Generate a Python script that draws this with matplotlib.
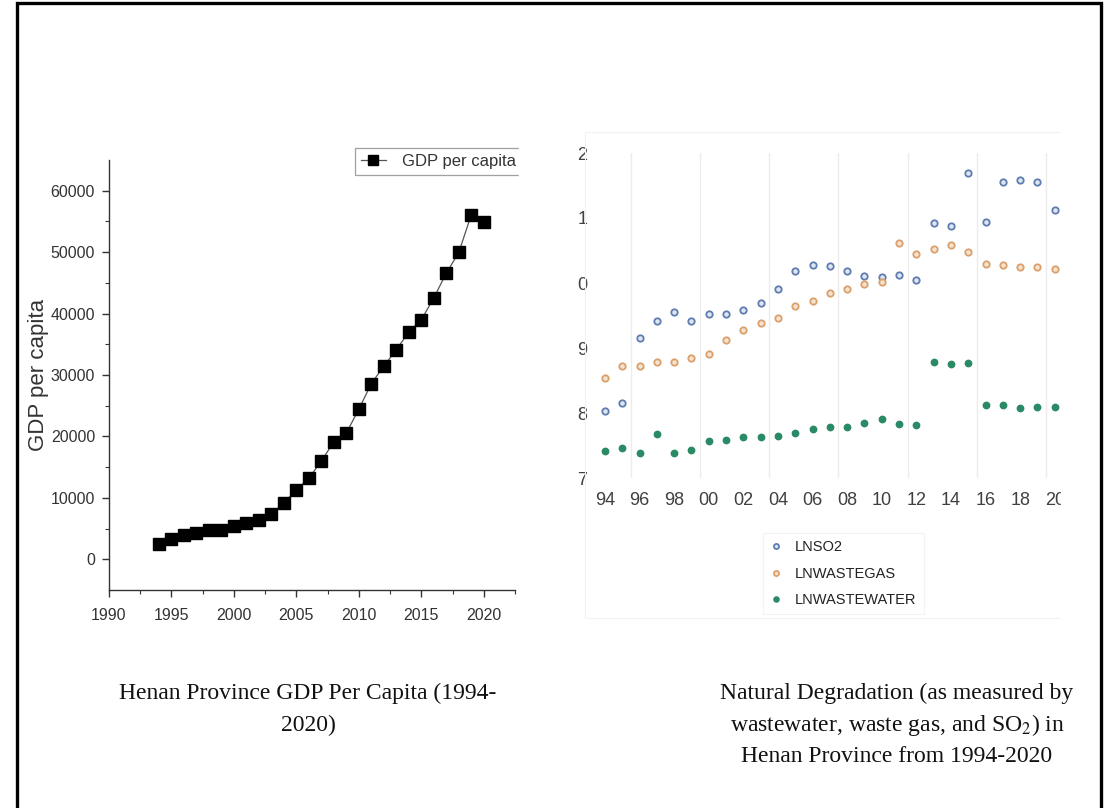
import matplotlib
matplotlib.use('Agg')
import matplotlib.pyplot as plt
import matplotlib.patches as mpatches
from matplotlib.lines import Line2D
import numpy as np

# GDP per capita, Henan (left panel)
gdp_years = list(range(1994, 2021))
gdp_per_capita = [2440, 3260, 3900, 4340, 4720, 4780, 5430, 5970, 6400, 7330,
                  9230, 11290, 13190, 16010, 19110, 20580, 24430, 28610, 31430,
                  34150, 36970, 38980, 42560, 46580, 49950, 56080, 54830]

# log pollution series (right panel)
deg_years = list(range(1994, 2021))
lnso2 = [8.03, 8.16, 9.15, 9.42, 9.55, 9.42, 9.52, 9.53, 9.59, 9.70,
         9.91, 10.19, 10.27, 10.26, 10.18, 10.11, 10.10, 10.12, 10.05,
         10.92, 10.87, 11.69, 10.94, 11.56, 11.59, 11.56, 11.12]
lnwastegas = [8.54, 8.72, 8.73, 8.79, 8.79, 8.84, 8.91, 9.13, 9.27, 9.38,
              9.46, 9.64, 9.72, 9.84, 9.91, 9.99, 10.02, 10.62, 10.45,
              10.53, 10.59, 10.48, 10.29, 10.28, 10.25, 10.25, 10.22]
lnwastewater = [7.41, 7.46, 7.39, 7.68, 7.39, 7.43, 7.57, 7.59, 7.63, 7.63,
                7.65, 7.70, 7.76, 7.79, 7.79, 7.84, 7.91, 7.83, 7.82,
                8.78, 8.75, 8.77, 8.13, 8.13, 8.08, 8.09, 8.09]

W, H = 1109, 808
fig = plt.figure(figsize=(W / 100, H / 100), dpi=100)

def fx(px):
    return px / W

def fy(py):
    return 1 - py / H

sans = ['Liberation Sans', 'DejaVu Sans']
serif = ['Liberation Serif', 'DejaVu Serif']
plt.rcParams['mathtext.fontset'] = 'stix'

# ---------------- left panel ----------------
ax1 = fig.add_axes([fx(109), fy(590), fx(515) - fx(109), fy(160) - fy(590)])
ax1.plot(gdp_years, gdp_per_capita, color='#555555', lw=0.9, marker='s',
         ms=8.8, mfc='black', mec='black', label='GDP per capita')
ax1.set_xlim(1990, 2022.5)
ax1.set_ylim(-5000, 65000)
ax1.set_xticks(range(1990, 2021, 5))
ax1.set_xticks(np.arange(1992.5, 2023, 5), minor=True)
ax1.set_yticks(range(0, 60001, 10000))
ax1.set_yticks(range(5000, 60001, 10000), minor=True)
for s in ['top', 'right']:
    ax1.spines[s].set_visible(False)
for s in ['left', 'bottom']:
    ax1.spines[s].set_color('#333333')
    ax1.spines[s].set_linewidth(1.0)
ax1.tick_params(which='major', direction='out', length=5, width=1, color='#333333',
                labelcolor='#333333', pad=5)
ax1.tick_params(axis='x', pad=8)
ax1.tick_params(which='minor', direction='out', length=3, width=0.8, color='#333333')
for lbl in ax1.get_xticklabels() + ax1.get_yticklabels():
    lbl.set_family(sans)
    lbl.set_fontsize(11.5)
ax1.set_ylabel('GDP per capita', family=sans, fontsize=16, color='#333333')
ax1.yaxis.set_label_coords(-0.148, 0.5)

leg1 = fig.legend(loc='upper left', bbox_to_anchor=(fx(355), fy(148)),
                  handles=[Line2D([], [], color='#555555', lw=0.9, marker='s', ms=7,
                                  mfc='black', mec='black')],
                  labels=['GDP per capita'], frameon=True, fancybox=False,
                  prop={'family': sans, 'size': 12}, handlelength=1.5,
                  borderpad=0.35, handletextpad=1.0, borderaxespad=0)
leg1.get_frame().set_edgecolor('#888888')
leg1.get_frame().set_linewidth(0.9)
for t in leg1.get_texts():
    t.set_color('#333333')

# ---------------- right panel ----------------
ax2 = fig.add_axes([fx(593), fy(478), fx(1062) - fx(593), fy(153) - fy(478)])
ax2.set_xlim(1993.31, 2020.42)
ax2.set_ylim(7, 12)
ax2.plot(deg_years, lnso2, ls='none', marker='o', ms=4.6, mew=1.3,
         mec='#5f7db0', mfc='#dfe6f2', label='LNSO2', zorder=3)
ax2.plot(deg_years, lnwastegas, ls='none', marker='o', ms=4.6, mew=1.3,
         mec='#dba06c', mfc='#f5e3cf', label='LNWASTEGAS', zorder=3)
ax2.plot(deg_years, lnwastewater, ls='none', marker='o', ms=4.6, mew=1.0,
         mec='#2a8a66', mfc='#2a8a66', label='LNWASTEWATER', zorder=3)
for s in ax2.spines.values():
    s.set_visible(False)
ax2.set_xticks(range(1994, 2021, 2))
ax2.set_xticklabels([f'{y % 100:02d}' for y in range(1994, 2021, 2)])
ax2.set_yticks(range(7, 13))
ax2.set_yticklabels([str(v % 10) for v in range(7, 13)])
ax2.set_xticks(np.arange(1995.5, 2021, 4), minor=True)
ax2.set_yticks(range(8, 12), minor=True)
ax2.grid(which='minor', color='#ececec', lw=1.0)
ax2.set_axisbelow(True)
ax2.tick_params(which='both', length=0)
ax2.tick_params(axis='x', pad=10)
ax2.tick_params(axis='y', pad=4)
for lbl in ax2.get_xticklabels() + ax2.get_yticklabels():
    lbl.set_family(sans)
    lbl.set_fontsize(13)
    lbl.set_color('#404040')

h, l = ax2.get_legend_handles_labels()
leg2 = fig.legend(h, l, loc='upper left', bbox_to_anchor=(fx(763), fy(533)),
                  frameon=True, fancybox=False, prop={'family': sans, 'size': 10.5},
                  handlelength=0.8, handletextpad=0.9, borderpad=0.5,
                  labelspacing=0.85, borderaxespad=0, markerscale=0.8)
leg2.get_frame().set_edgecolor('#f0f0f0')
leg2.get_frame().set_linewidth(0.8)
for t in leg2.get_texts():
    t.set_color('#222222')

# faint chart area frame of the right picture
fig.patches.append(mpatches.Rectangle((fx(585), fy(618)), fx(1062) - fx(585), fy(132) - fy(618),
                                      transform=fig.transFigure, fill=False,
                                      edgecolor='#f2f2f2', lw=0.8, zorder=0))

# white masks where the pasted pictures were cropped
fig.patches.append(mpatches.Rectangle((fx(519), fy(200)), fx(40), fy(130) - fy(200),
                                      transform=fig.transFigure, color='white', zorder=10))
fig.patches.append(mpatches.Rectangle((fx(1061), fy(640)), fx(37), fy(110) - fy(640),
                                      transform=fig.transFigure, color='white', zorder=10))

# captions
fig.text(fx(308), fy(693), 'Henan Province GDP Per Capita (1994-', ha='center', va='center',
         family=serif, fontsize=17, color='#111111')
fig.text(fx(308), fy(725), '2020)', ha='center', va='center',
         family=serif, fontsize=17, color='#111111')
fig.text(fx(897), fy(693), 'Natural Degradation (as measured by', ha='center', va='center',
         family=serif, fontsize=17, color='#111111')
fig.text(fx(897), fy(725), r'wastewater, waste gas, and SO$_2$) in', ha='center', va='center',
         family=serif, fontsize=17, color='#111111')
fig.text(fx(897), fy(757), 'Henan Province from 1994-2020', ha='center', va='center',
         family=serif, fontsize=17, color='#111111')

# outer black frame
fig.patches.append(mpatches.Rectangle((fx(17), fy(812)), fx(1101) - fx(17), fy(3.5) - fy(812),
                                      transform=fig.transFigure, fill=False,
                                      edgecolor='black', lw=2.4, zorder=20, clip_on=False))

fig.savefig('out.png', dpi=100)
